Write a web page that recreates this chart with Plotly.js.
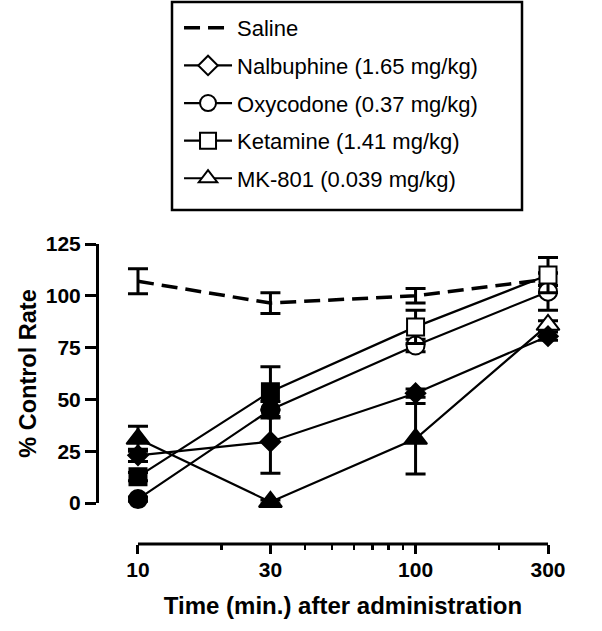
<!DOCTYPE html>
<html>
<head>
<meta charset="utf-8">
<script src="https://cdn.plot.ly/plotly-3.0.1.min.js"></script>
<style>html,body{margin:0;padding:0;background:#fff;}#chart{width:602px;height:631px;}</style>
</head>
<body>
<div id="chart"></div>
<script>
// ---- data ----
const times = [10, 30, 100, 300];
const xTickVals = [10, 30, 100, 300];
const xTickText = ['10', '30', '100', '300'];
const xMinorVals = [20, 40, 50, 60, 70, 80, 90, 200];
const yTickVals = [0, 25, 50, 75, 100, 125];

const salineName = 'Saline';
const salineMean = [107, 96.5, 100, 108];
const salineErr = [6, 5, 3.5, 3];

const nalName = 'Nalbuphine (1.65 mg/kg)';
const nalMean = [23, 29.6, 53, 80.5];
const nalErr = [3, 15.3, 2, 2];
const nalSig = [1, 1, 1, 1];

const oxyName = 'Oxycodone (0.37 mg/kg)';
const oxyMean = [1.9, 45, 76, 102];
const oxyErr = [1, 4, 3, 9];
const oxySig = [1, 1, 0, 0];

const ketName = 'Ketamine (1.41 mg/kg)';
const ketMean = [12.7, 53.7, 85, 110];
const ketErr = [2, 12, 8, 8.5];
const ketSig = [1, 1, 0, 0];

const mkName = 'MK-801 (0.039 mg/kg)';
const mkMean = [31, 0.5, 31, 86];
const mkErr = [6, 1, 17, 2];
const mkSig = [1, 1, 1, 0];

// ---- styling helpers ----
const fillOf = sig => sig.map(s => (s ? 'black' : 'white'));
const errStyle = arr => ({type: 'data', array: arr, visible: true, color: 'black', thickness: 3, width: 10});

function drugTrace(name, y, err, sig, symbol, size) {
  return {
    x: times, y: y, name: name, type: 'scatter', mode: 'lines+markers',
    showlegend: false, cliponaxis: false, hoverinfo: 'skip',
    line: {color: 'black', width: 2.2},
    marker: {symbol: symbol, size: size, color: fillOf(sig), line: {color: 'black', width: 2}},
    error_y: errStyle(err)
  };
}
function legendTrace(name, symbol, size, grp) {
  return {
    x: [null], y: [null], name: name, type: 'scatter', mode: 'lines+markers',
    showlegend: true, legendgroup: grp, hoverinfo: 'skip',
    line: {color: 'black', width: 2.2},
    marker: {symbol: symbol, size: size, color: 'white', line: {color: 'black', width: 2}}
  };
}

const saline = {
  x: times, y: salineMean, name: salineName, type: 'scatter', mode: 'lines',
  showlegend: true, legendgroup: 'g0', cliponaxis: false, hoverinfo: 'skip',
  line: {color: 'black', width: 3.5, dash: '16px,8px'},
  error_y: errStyle(salineErr)
};

const traces = [
  saline,
  drugTrace(mkName, mkMean, mkErr, mkSig, 'triangle-up', 20),
  drugTrace(oxyName, oxyMean, oxyErr, oxySig, 'circle', 18),
  drugTrace(ketName, ketMean, ketErr, ketSig, 'square', 17),
  drugTrace(nalName, nalMean, nalErr, nalSig, 'diamond', 15),
  legendTrace(nalName, 'diamond', 15, 'g1'),
  legendTrace(oxyName, 'circle', 16, 'g2'),
  legendTrace(ketName, 'square', 16, 'g3'),
  legendTrace(mkName, 'triangle-up', 16, 'g4')
];

const fontFam = 'Liberation Sans, Arial, Helvetica, sans-serif';
const xPad = 0.0432; // small log-unit padding so markers/caps at the ends are not clipped
const axisY = 0.05;  // paper position of the (offset) x axis
const xDomain = [0.13147, 0.99602];
const xRange = [Math.log10(10) - xPad, Math.log10(300) + xPad];
// paper fraction of an x value (for the axis line that spans only 10..300)
const xPaper = v => xDomain[0] + (Math.log10(v) - xRange[0]) / (xRange[1] - xRange[0]) * (xDomain[1] - xDomain[0]);

const layout = {
  width: 602, height: 631,
  margin: {l: 60, r: 40, t: 240, b: 71, autoexpand: false},
  paper_bgcolor: 'white', plot_bgcolor: 'rgba(0,0,0,0)',
  font: {family: fontFam, color: 'black'},
  showlegend: true,
  legend: {
    x: 0.2371, y: 1.728, xanchor: 'left', yanchor: 'top',
    bgcolor: 'rgba(0,0,0,0)', borderwidth: 0,
    font: {family: fontFam, size: 22, color: 'black'},
    itemwidth: 48, tracegroupgap: 6, traceorder: 'grouped'
  },
  xaxis: {
    type: 'log', range: xRange,
    domain: xDomain, anchor: 'free', position: axisY,
    showline: false,
    ticks: 'outside', ticklen: 9, tickwidth: 3, tickcolor: 'black',
    tickvals: xTickVals, ticktext: xTickText, ticklabelstandoff: -2,
    tickfont: {family: fontFam, size: 21, weight: 'bold', color: 'black'},
    minor: {tickvals: xMinorVals, ticks: 'outside', ticklen: 5, tickwidth: 2.5, tickcolor: 'black', showgrid: false},
    showgrid: false, zeroline: false,
    title: {text: 'Time (min.) after administration', standoff: 16,
            font: {family: fontFam, size: 24, weight: 'bold', color: 'black'}}
  },
  yaxis: {
    range: [0, 125], domain: [0.178125, 0.9875], anchor: 'free', position: 0.0737,
    showline: true, linewidth: 3, linecolor: 'black',
    ticks: 'outside', ticklen: 11, tickwidth: 3, tickcolor: 'black',
    tickvals: yTickVals,
    tickfont: {family: fontFam, size: 21, weight: 'bold', color: 'black'},
    showgrid: false, zeroline: false,
    title: {text: '% Control Rate', standoff: 1,
            font: {family: fontFam, size: 23.5, weight: 'bold', color: 'black'}}
  },
  shapes: [
    { // legend frame
      type: 'rect', xref: 'paper', yref: 'paper',
      x0: 0.22311, x1: 0.92032, y0: 1.09375, y1: 1.74375,
      line: {color: 'black', width: 2.5}, fillcolor: 'rgba(0,0,0,0)'
    },
    { // x axis line spanning 10..300 only
      type: 'line', xref: 'paper', yref: 'paper',
      x0: xPaper(xTickVals[0]), x1: xPaper(xTickVals[xTickVals.length - 1]),
      y0: axisY, y1: axisY,
      line: {color: 'black', width: 3}
    }
  ]
};

Plotly.newPlot('chart', traces, layout, {displayModeBar: false, staticPlot: true});
</script>
</body>
</html>
